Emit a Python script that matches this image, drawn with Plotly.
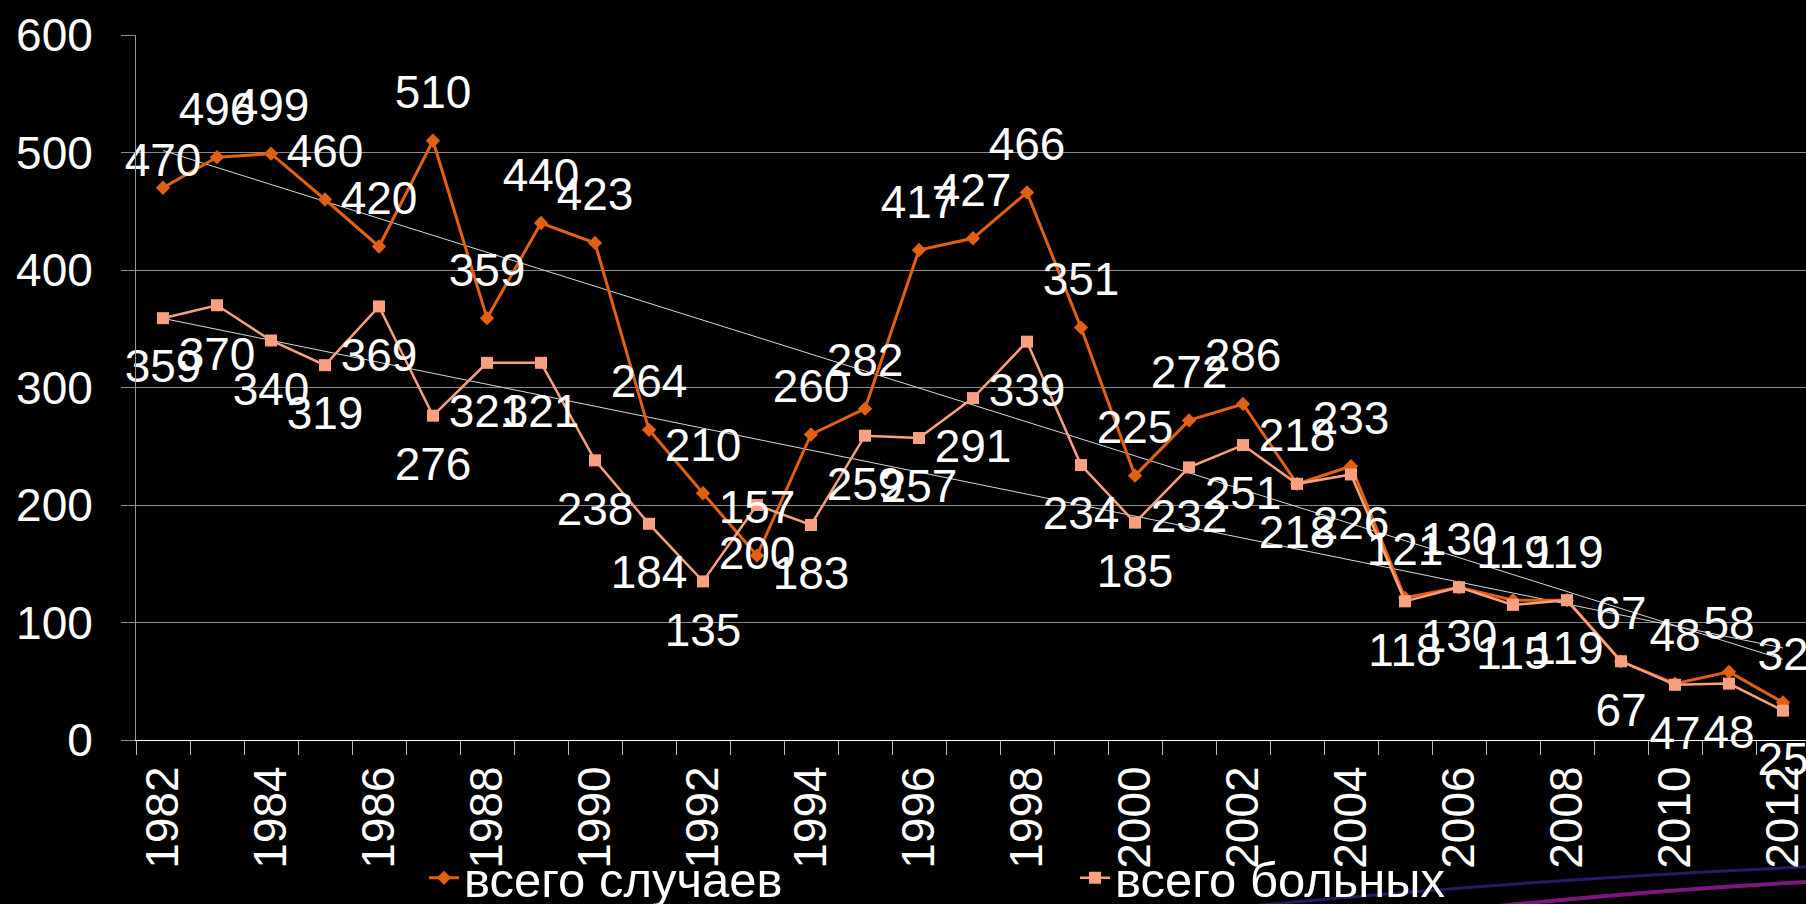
import numpy as np
import plotly.graph_objects as go

years = [str(y) for y in range(1982, 2013)]
cases = [470, 496, 499, 460, 420, 510, 359, 440, 423, 264, 210, 157, 260, 282, 417,
         427, 466, 351, 225, 272, 286, 218, 233, 121, 130, 119, 119, 67, 48, 58, 32]
patients = [359, 370, 340, 319, 369, 276, 321, 321, 238, 184, 135, 200, 183, 259, 257,
            291, 339, 234, 185, 232, 251, 218, 226, 118, 130, 115, 119, 67, 47, 48, 25]
tick_labels = [y if (int(y) - 1982) % 2 == 0 else "" for y in years]
name_cases = "всего случаев"
name_patients = "всего больных"

C_CASES = "#E2600F"
C_PAT = "#F9A080"
FONT = "Liberation Sans, Arial, sans-serif"
FS = 46

idx = np.arange(len(years))
trend_cases = np.polyval(np.polyfit(idx, cases, 1), idx)
trend_pat = np.polyval(np.polyfit(idx, patients, 1), idx)

# label offsets (invisible marker size pushes the text away from the point)
case_label_pad = [0] + [32] * (len(years) - 1)

fig = go.Figure()

# trendlines
fig.add_trace(go.Scatter(x=years, y=trend_cases, mode="lines",
                         line=dict(color="#d8d8d8", width=1), showlegend=False, hoverinfo="skip"))
fig.add_trace(go.Scatter(x=years, y=trend_pat, mode="lines",
                         line=dict(color="#d8d8d8", width=1), showlegend=False, hoverinfo="skip"))

# data lines
fig.add_trace(go.Scatter(x=years, y=cases, mode="lines+markers", name=name_cases,
                         line=dict(color=C_CASES, width=3),
                         marker=dict(symbol="diamond", size=11, color=C_CASES),
                         legend="legend"))
fig.add_trace(go.Scatter(x=years, y=patients, mode="lines+markers", name=name_patients,
                         line=dict(color=C_PAT, width=2.5),
                         marker=dict(symbol="square", size=12, color=C_PAT),
                         legend="legend2"))

# data labels
fig.add_trace(go.Scatter(x=years, y=cases, mode="markers+text", text=[str(v) for v in cases],
                         textposition="top center", cliponaxis=False,
                         textfont=dict(color="white", size=FS, family=FONT),
                         marker=dict(size=case_label_pad, opacity=0), showlegend=False,
                         hoverinfo="skip"))
fig.add_trace(go.Scatter(x=years, y=patients, mode="markers+text", text=[str(v) for v in patients],
                         textposition="bottom center", cliponaxis=False,
                         textfont=dict(color="white", size=FS, family=FONT),
                         marker=dict(size=46, opacity=0), showlegend=False, hoverinfo="skip"))

W, H = 1806, 904
L, R, T, B = 136, 0, 35, 164
pw, ph = W - L - R, H - T - B

def px_x(x):
    return (x - L) / pw

def px_y(y):
    return (H - B - y) / ph

# decorative background swooshes (bottom right)
shapes = [
    dict(type="path", xref="paper", yref="paper", layer="below",
         path=f"M {px_x(1250)} {px_y(906)} Q {px_x(1550)} {px_y(878)} {px_x(1806)} {px_y(867)}",
         line=dict(color="rgba(70,40,170,0.6)", width=3)),
    dict(type="path", xref="paper", yref="paper", layer="below",
         path=f"M {px_x(1480)} {px_y(908)} Q {px_x(1650)} {px_y(890)} {px_x(1806)} {px_y(882)}",
         line=dict(color="rgba(170,30,170,0.75)", width=4)),
]

fig.update_layout(
    width=W, height=H,
    paper_bgcolor="black", plot_bgcolor="black",
    margin=dict(l=L, r=R, t=T, b=B, autoexpand=False),
    font=dict(family=FONT, color="white", size=FS),
    shapes=shapes,
    legend=dict(orientation="h", x=px_x(424), y=px_y(878), xanchor="left", yanchor="middle",
                bgcolor="rgba(0,0,0,0)", font=dict(size=49, color="white", family=FONT)),
    legend2=dict(orientation="h", x=px_x(1075), y=px_y(878), xanchor="left", yanchor="middle",
                 bgcolor="rgba(0,0,0,0)", font=dict(size=49, color="white", family=FONT)),
    xaxis=dict(type="category", range=[-0.5, -0.5 + pw / 54.0],
               tickmode="array", tickvals=years, ticktext=tick_labels,
               tickangle=-90, tickson="boundaries", ticks="outside", ticklen=14,
               tickcolor="#bbbbbb", showgrid=False, showline=True, linecolor="white",
               linewidth=1, ticklabelstandoff=7, automargin=False,
               tickfont=dict(size=FS, color="white", family=FONT)),
    yaxis=dict(range=[0, 600], dtick=100, tick0=0, showgrid=True, gridcolor="#8a8a8a",
               gridwidth=1, zeroline=False, showline=True, linecolor="#9a9a9a",
               ticks="outside", ticklen=14, tickcolor="#8a8a8a", ticklabelstandoff=19,
               automargin=False, tickfont=dict(size=FS, color="white", family=FONT)),
    showlegend=True,
)

fig.write_html("out.html", config={"displayModeBar": False},
               post_script="document.body.style.margin='0';document.body.style.background='black';")
